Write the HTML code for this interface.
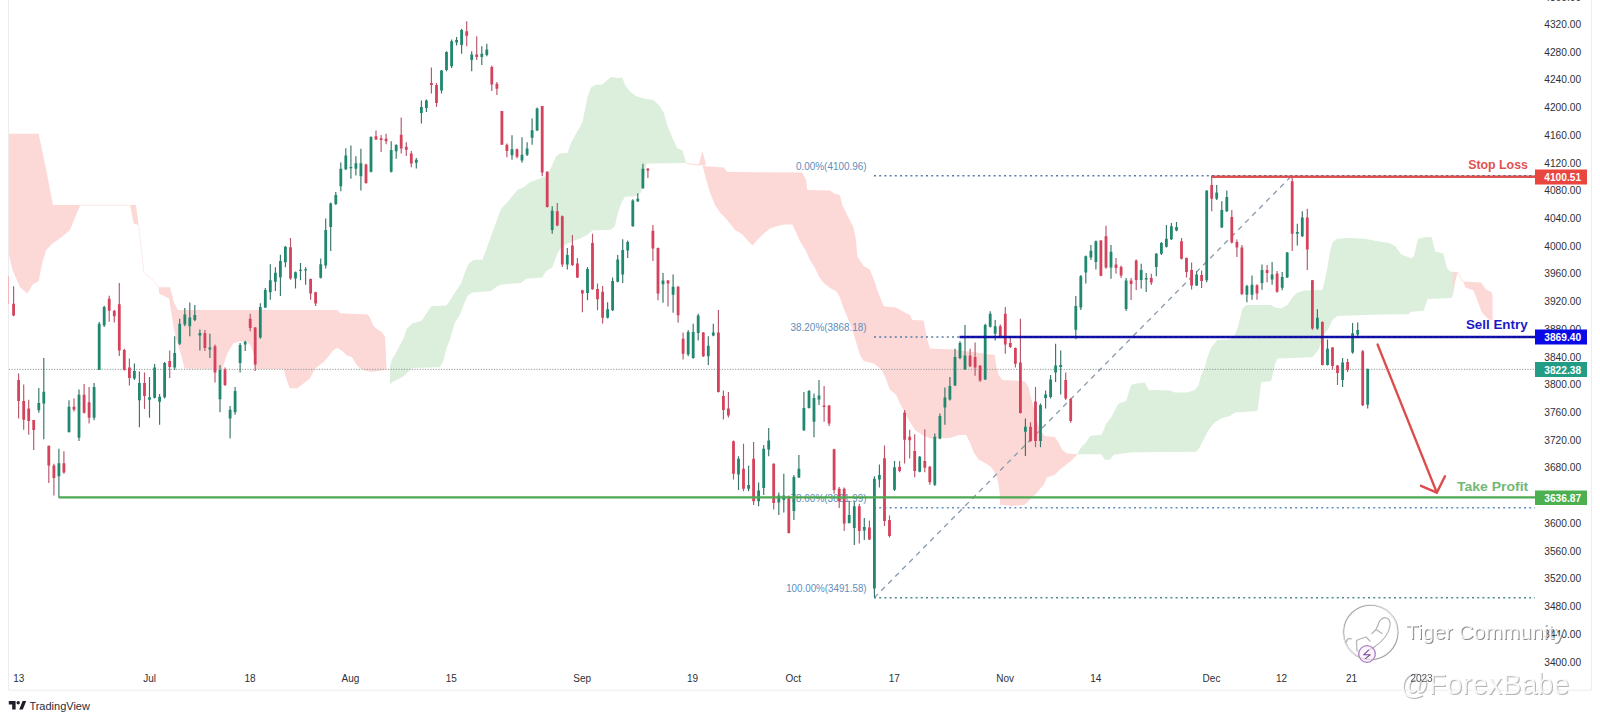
<!DOCTYPE html>
<html lang="en"><head><meta charset="utf-8"><title>Chart</title>
<style>
html,body{margin:0;padding:0;background:#fff;}
body{width:1600px;height:721px;overflow:hidden;}
svg{display:block;}
text{font-family:"Liberation Sans",sans-serif;}
.ax{font-size:10px;fill:#2e3038;}
.fib{font-size:11px;fill:#608dbb;}
.tag{font-size:10.5px;font-weight:bold;fill:#fff;}
.lbl{font-size:13px;font-weight:bold;}
</style></head><body>
<svg width="1600" height="721" viewBox="0 0 1600 721">
<rect width="1600" height="721" fill="#fff"/>
<g fill="none" stroke="#ececee" stroke-width="1">
<path d="M8.5 0V690.2H1591.4V0"/>
</g>
<g stroke="none">
<polygon fill="#fcd9d7" points="9,133.7 38.7,133.7 46.2,170 53,205 80,205 80,205.4 75,217.4 70,230 61.2,237.4 52.4,243.6 46.2,250 42.4,262.3 38.7,281 32.5,284.8 27.5,293.5 20,287.3 12.5,270 9,255"/>
<polygon fill="#fcd9d7" points="130,205 136,205 138.6,225 138.6,225 133.6,223.6 130,205"/>
<polygon fill="#fcd9d7" points="158.4,287.2 170.1,287.2 171,291 174,302.7 177.9,310.1 337.5,310.1 340,313.2 367.7,314.6 369.8,317.3 373.3,325.7 376.8,329.1 381.6,331.9 385.1,336.8 386.5,368.7 386.5,369 382,370.5 372,371.8 366,371 360,368.5 356,364 351.8,356.9 346.9,355.5 342.3,351 337.3,348 333.6,350 324.8,361 314.9,368.7 309.9,378.6 297.3,388.2 289.5,388.2 285.6,376.5 283.7,369.1 256.5,369.1 254.6,357 250.7,345.4 246.8,341.6 239,341.6 233.2,343.5 227.4,353.2 223.5,364.9 222.5,369.1 184.7,368.7 181.7,357 178.8,347.4 175.9,337.7 173,324 171,310.5 169.1,298.8 164.3,296 159.4,294 158.4,287.2"/>
<polygon fill="#dceedc" points="389.9,384.6 389.9,366.6 392,359.6 396.9,351.3 401,343 404.5,336 406.6,329.1 412.1,323.6 421.8,320.8 426,313.9 431.5,306.2 446.2,305.5 448.7,302.4 454.9,292.4 461.1,283.6 464.9,272.4 468.6,263.7 473.6,259.9 482.4,259.4 486.1,249.9 492.4,232.5 497.4,218.7 501.1,208.7 506.2,203.6 512.5,196.1 517.5,189.8 523.7,187.3 530,182.3 540,178.6 546.2,176.1 551.2,167.4 556.2,156.1 560,153.6 567.4,153.1 571.2,142.4 577.4,131.2 582.4,122.4 584.9,109.9 587.4,97.5 591.1,87.5 594.9,85 602.4,84.5 607.4,80 611.1,77 617.4,78 622.4,77.5 624.9,85 629.8,91.2 636.1,96.2 644.8,98.7 653.6,99.9 659.8,106.2 663.6,112.4 667.3,124.9 672.3,137.4 677.3,148.6 682.3,149.9 686,162.4 686,163 647.3,163.6 646,165 643.6,179.9 641.1,192.3 637.3,196.1 624.9,196.8 621.1,203.6 617.4,214.8 614.9,226 611.1,229.8 592.4,230.5 587.4,234.8 579.8,238.7 572.3,241.2 564.8,244.9 561,247.4 557.3,253.7 552.3,267.4 546,271.2 542.3,277.4 526.1,278.7 521.1,283.1 502.3,284.4 497.4,286.1 491.1,291.1 472.4,292.4 467.4,296.1 463.6,304.9 459.9,314.9 454.9,322.3 449.9,339.8 446.8,347.2 443.3,361 439.9,367.3 412.1,368 409.3,370.7 405.2,374.9 401,377.7 392.7,381.8 389.9,384.6"/>
<polygon fill="#fcd9d7" points="686.2,163 698.7,164.5 702.5,151.2 706.2,165 706.2,165 702.5,165 698.7,165.5 686.2,163.8"/>
<polygon fill="#fcd9d7" points="702.5,165 706.2,166.2 723.7,167.5 727.4,172 802.3,172.4 806.1,180 807.3,190 829.8,190.4 834.8,193.7 839.8,195 842.3,205 848.5,217.4 853.5,227.4 856,239.9 857.4,256.8 863.6,266 869.9,269.5 874.9,282.4 878.7,293.7 883.7,306.2 896.1,307.4 904.9,312.4 909.9,314.9 912.4,319.9 923.6,320.4 924.9,327.4 927.4,339.9 929.9,348.6 953.6,349.4 994.9,355 996.1,365 998.6,375 1002.4,380 1024.8,381.2 1028.6,387.4 1032.3,402.4 1036.1,417.4 1039.8,429.9 1044.8,436.1 1054.8,436.9 1058.6,442.4 1062.3,449.9 1067.3,453.6 1077.5,454.3 1077.5,454.3 1072.3,459.8 1066,464.8 1059.8,469.8 1054.8,474.8 1047.3,477.3 1043.6,484.8 1037.3,492.3 1029.8,499.8 1024.8,504.8 1012.4,506 999.9,504.8 999.9,494.8 998.6,484.8 996.1,474.8 991.1,467.3 986.1,463.6 978.7,459.8 973.7,452.3 969.9,442.4 966.2,434.9 958.7,434.9 949.9,437.9 935,438.6 930,438.6 922.5,434.9 915,429.9 908.7,419.9 903.7,410.5 899.9,403.5 896.1,394.8 889.9,389.8 886.2,379.8 882.4,371.1 878.7,367.3 873.7,363.6 863.7,361.1 859.9,354.9 856.2,342.4 852.4,329.9 847.5,317.4 843.7,308.7 840,297.4 836.2,291.2 831.2,288.7 823.7,283 818.7,276 815,268 809.8,259.8 806.1,251.1 799.8,241.1 796.1,232.4 792.3,224.4 784.9,224.4 777.4,226.1 769.9,228.6 764.9,232.4 757.4,239.9 752.4,245.6 747.4,239.9 741.2,233.6 735,229.9 731.2,224.9 725,217.4 720,212.4 715,205 710,192.4 706.2,180 702.5,165"/>
<polygon fill="#dceedc" points="1077.5,453.6 1081.2,447.3 1086.2,442.3 1090,436.1 1101.2,434.8 1103.7,429.9 1106.2,423.6 1111.2,417.4 1114.9,409.9 1118.7,403.6 1126.2,401.1 1128.7,392.4 1131.2,384.9 1134.9,383.7 1144.9,382.4 1148.6,389.9 1169.9,390.4 1174.9,392.4 1187.3,392.4 1194.8,389.9 1198.6,384.9 1201.1,374.9 1204.8,367.4 1207.3,357.4 1211.1,347.5 1217.3,340 1229.8,339.5 1234.8,335 1237.5,328 1240,318.6 1242.5,308.6 1246.2,304.9 1271.2,304.9 1274.9,307.4 1281.2,308.6 1287.4,304.9 1292.4,297.4 1297.4,292.4 1304.9,290.4 1322.4,289.9 1324.9,279.9 1327.4,267.4 1329.9,252.5 1332.4,242.5 1337.4,238.7 1349.9,238 1364.8,238.7 1377.3,241.2 1389.7,243.1 1395.5,246.6 1401.4,254.4 1411.1,258.3 1414,256.3 1417.9,238.8 1426.6,236.9 1431.5,236.9 1435.3,251.5 1443.1,253.4 1447,268 1449.9,271.5 1456.7,272.2 1456.7,272.8 1454.8,281.6 1452.8,293.2 1451.8,298.1 1427.6,299 1423.7,310.7 1411.1,311.7 1408.2,314.2 1380,314.6 1337.4,316.1 1332.4,319.9 1328.6,328.5 1323.5,334.5 1321.1,342.3 1318.6,349.8 1312.4,357.3 1277.4,358.6 1274.9,364.8 1271.2,381 1261.2,382.3 1259,400 1257.3,411.1 1234.8,412.4 1229.8,416.1 1221,418.6 1213.6,423.6 1208.6,429.9 1203.6,439.8 1199.8,447.3 1196.1,451.8 1132.4,452.3 1113.7,454.8 1109.9,459.8 1104.9,459.8 1101.2,454.3 1077.5,454.3"/>
<polygon fill="#fcd9d7" points="1452.8,271.8 1457.7,272.2 1457.7,272.2 1454.8,283.5 1452.8,297"/>
<polygon fill="#fcd9d7" points="1457.7,272.2 1461.6,279.6 1463.5,281.6 1481,282.5 1485.8,289.3 1491.7,292.2 1492.6,297 1492.6,320.4 1492.6,320.4 1488.7,319.4 1481.9,312.6 1479,304.9 1476.1,297 1473.2,290.3 1465.4,287.4 1463.5,282.5 1461.6,280.4 1457.7,273"/>
</g>
<path d="M80 205.2H130M138.6 225L143.9 272.6L153.6 280.4L158.4 287.2M1457.7 272.2L1461.6 279.6L1463.5 281.6" fill="none" stroke="#fdebea" stroke-width="1"/>
<line x1="9" y1="369.35" x2="1535" y2="369.35" stroke="#8a9795" stroke-width="1" stroke-dasharray="1.15 1.5"/>
<g fill="none" stroke-width="1.5" stroke-dasharray="2 3.2">
<line x1="874" y1="175.8" x2="1535" y2="175.8" stroke="#587ca6"/>
<line x1="874" y1="336.9" x2="1535" y2="336.9" stroke="#587ca6"/>
<line x1="874" y1="507.8" x2="1535" y2="507.8" stroke="#6490c0"/>
<line x1="874" y1="597.7" x2="1535" y2="597.7" stroke="#4d8a96"/>
</g>
<line x1="875" y1="597" x2="1290" y2="177.5" stroke="#8c9cae" stroke-width="1.35" stroke-dasharray="5.2 4.753" stroke-dashoffset="1.16"/>
<text class="fib" x="796" y="170.1" textLength="70.5" lengthAdjust="spacingAndGlyphs">0.00%(4100.96)</text>
<text class="fib" x="790.6" y="331.2" textLength="76" lengthAdjust="spacingAndGlyphs">38.20%(3868.18)</text>
<text class="fib" x="790.6" y="502" textLength="76" lengthAdjust="spacingAndGlyphs">78.60%(3621.99)</text>
<text class="fib" x="786.2" y="592" textLength="80.4" lengthAdjust="spacingAndGlyphs">100.00%(3491.58)</text>
<path d="M8.5 276V304" stroke="#f3b6bd" stroke-width="1" fill="none"/>
<path d="M38.8 387.9V412.8M43.8 357.9V439.3M58.9 448.7V497.4M69 400.3V432.3M79 389.4V441M94.1 382.9V420.3M99.2 321.9V369.9M104.2 305.7V326.9M134.4 363.6V379.9M139.4 371.6V427.3M149.5 376.9V417.8M154.6 364.1V398.6M159.6 394.1V424.8M164.6 361.9V398.6M174.7 336.2V369.9M179.7 318.7V344.9M184.8 308V326.2M189.8 302.5V336.2M194.8 305V321.2M199.9 329.4V350.4M209.9 333.7V357.9M220 364.9V412.3M230.1 406.1V438.5M235.1 386.9V414.8M240.1 342.9V372.4M245.2 340.7V351.1M260.3 303.2V338.7M265.3 288V308M270.3 264.3V299.8M275.4 267.3V291M280.4 254.8V296M285.4 246.1V267.3M295.5 271.6V288.5M300.5 263.1V280.3M305.6 267.3V284.8M320.7 258.6V278.6M325.7 218.6V268.6M330.7 202.4V251.1M335.8 191.9V204.9M340.8 162.4V191.2M345.8 148.2V169.9M350.9 145.5V178.7M355.9 156.2V175.4M360.9 148.7V190.4M371 136.2V172.4M391.2 141.2V172.4M396.2 144.2V158.7M416.3 158.1V168.6M421.4 100.4V123.6M426.4 99.4V111.9M441.5 69.9V93.6M446.5 51.2V71.2M451.6 39.5V67.9M456.6 37V45.5M461.6 28.7V53.7M471.7 51.2V71.2M481.8 46.2V64.9M486.8 43.7V56.2M512 135.3V159.8M522 137.3V162.8M527.1 142.3V156.1M532.1 118.6V144.8M537.1 107.4V131.1M552.2 206.2V233.7M567.3 247.9V269.4M587.5 266.9V300.3M607.6 302.3V318.6M612.6 277.4V311.1M617.7 254.9V282.3M622.7 239.2V283.1M627.7 240.6V258.1M632.8 199.2V226.7M637.8 193.2V201.9M642.9 163.7V188.7M663 272.9V302.8M673.1 274.4V312.8M688.2 330V356.2M693.2 323.7V358.7M698.2 313.7V340.4M708.3 336.2V364.9M713.3 323.7V336.2M738.5 456.2V489.9M748.6 465.7V491.2M758.6 482.4V506.2M763.7 445V494.9M768.7 428V456.2M778.8 492.4V514.9M783.8 473.7V512.4M793.9 474.9V519.9M798.9 455V477.9M803.9 391.9V431.1M809 389.9V408.6M814 393.6V437.3M819 379.9V404.9M849.2 500.7V523.6M854.3 501.2V544.9M864.3 517.9V539.9M874.4 476.2V597.3M879.4 464.5V487.4M894.5 461V491M919.7 456.1V472.3M934.8 433.6V486M939.9 413.6V439.3M944.9 387.4V424.8M949.9 376.9V400.4M955 348.7V386.1M960 341.2V359.2M965 325V369.9M985.2 323.7V379.9M990.2 311.2V327.5M995.2 320V340.4M1025.4 418.6V456.1M1040.5 403.6V447.3M1045.6 390.4V408.6M1050.6 374.9V398.6M1055.6 343.7V381.9M1060.7 350.4V394.4M1075.8 296.1V339.3M1080.8 274.9V309.9M1085.8 255.4V283.6M1090.9 244.9V259.9M1095.9 240.4V269.4M1111 244.9V278.7M1126.1 277.9V311.1M1141.2 263.7V288.6M1146.2 272.9V291.9M1156.3 252.9V276.2M1161.4 241.9V254.9M1166.4 225V247.4M1171.4 223V240M1176.5 222V231.2M1196.6 271.2V286.1M1206.7 190.5V282.3M1216.7 185V200M1221.8 201.2V227.9M1226.8 190.5V211.9M1246.9 284.8V302.3M1252 275.4V299.8M1262 264.4V289.8M1272.1 261.9V284.8M1282.2 271.9V290.3M1287.2 251.9V277.9M1297.3 223.7V245.4M1302.3 211.2V236.9M1317.4 309.3V329.8M1327.5 339.4V365.4M1342.6 357.9V386.9M1352.6 322.9V353.7M1357.7 322.4V336.2M1367.7 368.6V408.6" stroke="#3a7468" stroke-width="1.15" fill="none"/>
<path d="M13.6 286.2V316.2M18.6 373.6V418.6M23.7 384.4V429.8M28.7 399.8V434.8M33.7 420V449.9M48.8 445.7V482.9M53.9 463.7V495.4M63.9 451.2V473.7M74 398.6V411.6M84.1 384.1V413.6M89.1 386.9V423.6M109.2 295.7V321.7M114.3 310V322.4M119.3 283V356.1M124.3 348.7V370.4M129.4 358.6V385.4M144.5 372.4V409.1M169.7 350.4V377.9M204.9 329.9V351.1M215 344.4V382.4M225 367.4V386.1M250.2 313.7V331.2M255.2 326.9V371.1M290.5 237.9V279.8M310.6 278.6V299.8M315.6 291.8V306M366 163.7V183.7M376 130.5V140M381.1 135V152M386.1 133.7V144.2M401.2 117.4V153.6M406.3 142.3V156.1M411.3 151.1V167.3M431.4 67.4V93.6M436.5 82.9V106.9M466.7 21.2V46.2M476.7 36.2V59.9M491.8 65.4V91.1M496.9 81.9V94.9M501.9 111.1V144.8M506.9 143.6V157.3M517 148.6V158.6M542.2 106.1V176.2M547.2 171.2V207.4M557.3 202.9V226.2M562.3 215.4V266.9M572.4 234.9V266.1M577.4 258.1V277.9M582.4 289.8V312.3M592.5 233.7V289.8M597.5 283.6V310.3M602.6 286.1V323.5M647.9 168V178M652.9 224.9V261.1M658 247.4V300.3M668 279.9V306.6M678.1 286.1V322.8M683.1 332.5V359.4M703.3 332V356.9M718.4 310V392.4M723.4 390.4V419.4M728.4 391.9V417.4M733.5 440.5V479.4M743.5 443.7V491.2M753.6 442V504.9M773.7 463.2V509.4M788.8 495.4V533.6M824.1 386.1V421.8M829.1 404.9V426.1M834.1 448.7V493.7M839.2 486.9V507.9M844.2 487.4V531.1M859.3 503.7V543.6M869.4 520.4V539.9M884.5 445.5V526.1M889.5 515.6V537.4M899.6 461V472.3M904.6 409.9V463.5M909.7 429.8V458.6M914.7 434.3V477.3M924.8 429.3V472.3M929.8 466V484.8M970.1 348.7V366.9M975.1 342.4V375.7M980.1 364.9V381.9M1000.3 324.5V337.5M1005.3 307V353.7M1010.3 337.5V347.9M1015.4 347.4V367.4M1020.4 318.7V413.6M1030.5 422.3V441.8M1035.5 386.9V447.3M1065.7 372.4V399.9M1070.7 398.1V422.8M1100.9 240V276.2M1106 225.7V268.7M1116 257.9V273.7M1121.1 265.4V277.9M1131.1 277.9V299.9M1136.2 259.4V289.9M1151.3 273.7V284.9M1181.5 238V259.4M1186.5 257.4V277.4M1191.6 262.4V289.4M1201.6 270.4V287.9M1211.7 176.2V211.2M1231.8 209.9V243.6M1236.9 239.4V256.9M1241.9 244.9V294.8M1257 284.3V299.8M1267.1 264.9V282.3M1277.1 271.1V292.8M1292.2 176.2V251.1M1307.3 208.7V269.9M1312.4 279.9V329.8M1322.4 321.2V365.4M1332.5 346.9V369.4M1337.5 364.9V384.9M1347.6 358.7V371.9M1362.7 349.9V406.1" stroke="#b8566c" stroke-width="1.15" fill="none"/>
<path d="M37.4 403.1h2.8V410.3h-2.8zM42.4 391.8h2.8V403.6h-2.8zM57.5 463.2h2.8V476.2h-2.8zM67.6 406.8h2.8V432.3h-2.8zM77.6 394.8h2.8V437.8h-2.8zM92.7 386.9h2.8V417.8h-2.8zM97.8 323.7h2.8V369.9h-2.8zM102.8 307h2.8V325.4h-2.8zM133 371.1h2.8V378.6h-2.8zM138 382.9h2.8V400.3h-2.8zM148.1 397.3h2.8V399.8h-2.8zM153.2 367.4h2.8V397.8h-2.8zM158.2 396.8h2.8V401.8h-2.8zM163.2 362.9h2.8V397.3h-2.8zM173.3 353.1h2.8V367.4h-2.8zM178.3 323.7h2.8V343.7h-2.8zM183.4 314.4h2.8V324.4h-2.8zM188.4 317.4h2.8V326.2h-2.8zM193.4 314.9h2.8V319.9h-2.8zM198.5 332.9h2.8V335.4h-2.8zM208.5 347.4h2.8V349.4h-2.8zM218.6 369.9h2.8V399.3h-2.8zM228.7 409.8h2.8V418.6h-2.8zM233.7 391.1h2.8V412.3h-2.8zM238.7 344.9h2.8V362.9h-2.8zM243.8 341.7h2.8V344.4h-2.8zM258.9 307h2.8V337.4h-2.8zM263.9 290h2.8V307.5h-2.8zM268.9 280.3h2.8V292.3h-2.8zM274 272.8h2.8V281.8h-2.8zM279 261.1h2.8V277.3h-2.8zM284 246.8h2.8V262.3h-2.8zM294.1 272.3h2.8V278.6h-2.8zM299.1 269.8h2.8V271.1h-2.8zM304.2 269.3h2.8V270.6h-2.8zM319.3 264.3h2.8V277.8h-2.8zM324.3 229.9h2.8V265.6h-2.8zM329.3 203.6h2.8V226.9h-2.8zM334.4 194.9h2.8V204.1h-2.8zM339.4 168.7h2.8V186.2h-2.8zM344.4 155.5h2.8V169.2h-2.8zM349.5 166.9h2.8V168.2h-2.8zM354.5 163.2h2.8V168.7h-2.8zM359.5 163.2h2.8V176.2h-2.8zM369.6 137h2.8V171.7h-2.8zM389.8 150h2.8V171.7h-2.8zM394.8 145h2.8V151.2h-2.8zM414.9 159.8h2.8V162.8h-2.8zM420 106.9h2.8V112.9h-2.8zM425 100.4h2.8V107.9h-2.8zM440.1 70.4h2.8V90.4h-2.8zM445.1 51.9h2.8V69.9h-2.8zM450.2 41.2h2.8V66.2h-2.8zM455.2 40h2.8V42.5h-2.8zM460.2 30h2.8V45h-2.8zM470.3 54.4h2.8V59.9h-2.8zM480.4 53.7h2.8V56.9h-2.8zM485.4 49.5h2.8V54.9h-2.8zM510.6 149.3h2.8V155.3h-2.8zM520.6 154.8h2.8V160.6h-2.8zM525.7 148.6h2.8V154.8h-2.8zM530.7 130.3h2.8V137.8h-2.8zM535.7 108.6h2.8V130.6h-2.8zM550.8 210.7h2.8V229.9h-2.8zM565.9 254.9h2.8V264.4h-2.8zM586.1 269.1h2.8V293.1h-2.8zM606.2 309.3h2.8V317.8h-2.8zM611.2 281.1h2.8V310.3h-2.8zM616.3 259.4h2.8V281.8h-2.8zM621.3 249.9h2.8V274.4h-2.8zM626.3 241.9h2.8V250.4h-2.8zM631.4 200.4h2.8V226.2h-2.8zM636.4 198.7h2.8V201.2h-2.8zM641.5 168.7h2.8V188.2h-2.8zM661.6 280.6h2.8V284.3h-2.8zM671.7 286.8h2.8V294.8h-2.8zM686.8 332h2.8V354.4h-2.8zM691.8 332h2.8V357.9h-2.8zM696.8 315.5h2.8V333h-2.8zM706.9 345.7h2.8V356.2h-2.8zM711.9 332.5h2.8V335.5h-2.8zM737.1 458.7h2.8V474.4h-2.8zM747.2 484.9h2.8V488.7h-2.8zM757.2 490.4h2.8V501.2h-2.8zM762.3 448.7h2.8V487.9h-2.8zM767.3 440.5h2.8V449.5h-2.8zM777.4 495.4h2.8V502.4h-2.8zM782.4 495.4h2.8V499.9h-2.8zM792.5 476.9h2.8V511.1h-2.8zM797.5 468.7h2.8V477.4h-2.8zM802.5 408.1h2.8V430.3h-2.8zM807.6 391.1h2.8V407.9h-2.8zM812.6 397.9h2.8V421.8h-2.8zM817.6 395.4h2.8V399.4h-2.8zM847.8 514.9h2.8V522.9h-2.8zM852.9 506.2h2.8V527.9h-2.8zM862.9 526.9h2.8V530.4h-2.8zM873 478.7h2.8V588.6h-2.8zM878 474.9h2.8V479.4h-2.8zM893.1 467.3h2.8V489.8h-2.8zM918.3 456.8h2.8V471.8h-2.8zM933.4 436.8h2.8V484.8h-2.8zM938.5 416.1h2.8V438.6h-2.8zM943.5 397.4h2.8V407.4h-2.8zM948.5 386.1h2.8V399.4h-2.8zM953.6 356.9h2.8V385.4h-2.8zM958.6 342.9h2.8V357.9h-2.8zM963.6 355.4h2.8V369.2h-2.8zM983.8 325h2.8V379.4h-2.8zM988.8 313.7h2.8V326.7h-2.8zM993.8 326.2h2.8V333.7h-2.8zM1024 426.8h2.8V431.8h-2.8zM1039.1 404.9h2.8V441.1h-2.8zM1044.2 394.4h2.8V397.9h-2.8zM1049.2 379.4h2.8V396.9h-2.8zM1054.2 365.4h2.8V372.4h-2.8zM1059.3 364.9h2.8V366.9h-2.8zM1074.4 306.1h2.8V329.8h-2.8zM1079.4 276.2h2.8V307.4h-2.8zM1084.4 256.2h2.8V272.4h-2.8zM1089.5 250.7h2.8V257.4h-2.8zM1094.5 241.2h2.8V261.9h-2.8zM1109.6 251.7h2.8V267.4h-2.8zM1124.7 280.4h2.8V309.1h-2.8zM1139.8 269.9h2.8V279.9h-2.8zM1144.8 277.9h2.8V279.4h-2.8zM1154.9 253.7h2.8V266.9h-2.8zM1160 242.9h2.8V253.7h-2.8zM1165 238.7h2.8V246.7h-2.8zM1170 226.2h2.8V239.2h-2.8zM1175.1 227h2.8V230.5h-2.8zM1195.2 274.4h2.8V285.4h-2.8zM1205.3 190.5h2.8V280.3h-2.8zM1215.3 192.5h2.8V198.7h-2.8zM1220.4 209.9h2.8V227.4h-2.8zM1225.4 197h2.8V211.2h-2.8zM1245.5 286.1h2.8V294.8h-2.8zM1250.6 284.8h2.8V294.8h-2.8zM1260.6 269.9h2.8V283.1h-2.8zM1270.7 274.4h2.8V279.4h-2.8zM1280.8 276.9h2.8V287.8h-2.8zM1285.8 252.4h2.8V277.4h-2.8zM1295.9 231.9h2.8V233.7h-2.8zM1300.9 217.4h2.8V236.2h-2.8zM1316 317.8h2.8V328.5h-2.8zM1326.1 348.7h2.8V364.9h-2.8zM1341.2 362.4h2.8V379.9h-2.8zM1351.2 333.2h2.8V352.4h-2.8zM1356.3 329.9h2.8V334.4h-2.8zM1366.3 369.1h2.8V404.8h-2.8z" fill="#218870"/>
<path d="M12.2 303.7h2.8V315.4h-2.8zM17.2 379.9h2.8V401.1h-2.8zM22.3 401.1h2.8V419.8h-2.8zM27.3 408.6h2.8V421.1h-2.8zM32.3 420h2.8V430h-2.8zM47.4 445.7h2.8V465.4h-2.8zM52.5 465.4h2.8V477.9h-2.8zM62.5 463.2h2.8V472.4h-2.8zM72.6 406.8h2.8V409.8h-2.8zM82.7 394.8h2.8V412.8h-2.8zM87.7 402.3h2.8V417.8h-2.8zM107.8 298.7h2.8V310.7h-2.8zM112.9 310.7h2.8V316.2h-2.8zM117.9 304.2h2.8V350.4h-2.8zM122.9 349.9h2.8V369.9h-2.8zM128 367.4h2.8V378.1h-2.8zM143.1 382.9h2.8V396.1h-2.8zM168.3 361.1h2.8V366.9h-2.8zM203.5 332.9h2.8V347.9h-2.8zM213.6 346.2h2.8V372.4h-2.8zM223.6 369.4h2.8V384.9h-2.8zM248.8 318.7h2.8V327.9h-2.8zM253.8 327.4h2.8V364.4h-2.8zM289.1 247.3h2.8V278.6h-2.8zM309.2 279.1h2.8V293.5h-2.8zM314.2 292.3h2.8V303.5h-2.8zM364.6 164.4h2.8V182.9h-2.8zM374.6 136.2h2.8V139.5h-2.8zM379.7 138.2h2.8V140h-2.8zM384.7 138.7h2.8V141.2h-2.8zM399.8 134.8h2.8V148.6h-2.8zM404.9 146.8h2.8V149.8h-2.8zM409.9 153.6h2.8V163.6h-2.8zM430 82.9h2.8V84.9h-2.8zM435.1 84.9h2.8V102.9h-2.8zM465.3 31.2h2.8V35.7h-2.8zM475.3 54.4h2.8V56.9h-2.8zM490.4 66.9h2.8V84.4h-2.8zM495.5 83.7h2.8V88.7h-2.8zM500.5 111.1h2.8V144.8h-2.8zM505.5 144.8h2.8V151.1h-2.8zM515.6 149.3h2.8V156.8h-2.8zM540.8 106.1h2.8V172.5h-2.8zM545.8 171.7h2.8V206.9h-2.8zM555.9 211.2h2.8V225.4h-2.8zM560.9 216.2h2.8V264.4h-2.8zM571 245.4h2.8V264.9h-2.8zM576 263.6h2.8V277.4h-2.8zM581 290.3h2.8V293.6h-2.8zM591.1 243.1h2.8V289.3h-2.8zM596.1 289.1h2.8V299.3h-2.8zM601.2 291.8h2.8V317.8h-2.8zM646.5 168.7h2.8V170.5h-2.8zM651.5 230.7h2.8V248.6h-2.8zM656.6 247.9h2.8V293.6h-2.8zM666.6 280.6h2.8V283.6h-2.8zM676.7 286.8h2.8V315.3h-2.8zM681.7 338.7h2.8V353.7h-2.8zM701.9 332.5h2.8V356.2h-2.8zM717 332.5h2.8V391.9h-2.8zM722 396.1h2.8V409.9h-2.8zM727 408.6h2.8V415.4h-2.8zM732.1 441.2h2.8V473.7h-2.8zM742.1 468.7h2.8V488.7h-2.8zM752.2 458.7h2.8V501.2h-2.8zM772.3 463.7h2.8V502.9h-2.8zM787.4 496.2h2.8V532.9h-2.8zM822.7 405.4h2.8V406.9h-2.8zM827.7 405.6h2.8V423.6h-2.8zM832.7 449.2h2.8V489.9h-2.8zM837.8 488.7h2.8V501.2h-2.8zM842.8 488.7h2.8V523.6h-2.8zM857.9 506.2h2.8V531.1h-2.8zM868 527.4h2.8V539.4h-2.8zM883.1 458.2h2.8V521.1h-2.8zM888.1 519.9h2.8V536.1h-2.8zM898.2 466.8h2.8V471h-2.8zM903.2 412.4h2.8V439.8h-2.8zM908.3 436.8h2.8V440.3h-2.8zM913.3 451.1h2.8V471h-2.8zM923.4 461h2.8V467.8h-2.8zM928.4 466.8h2.8V482.3h-2.8zM968.7 355.4h2.8V366.2h-2.8zM973.7 356.9h2.8V367.4h-2.8zM978.7 365.7h2.8V380.4h-2.8zM998.9 326.2h2.8V337h-2.8zM1003.9 313.7h2.8V344.4h-2.8zM1008.9 342.9h2.8V346.9h-2.8zM1014 347.9h2.8V363.7h-2.8zM1019 362.4h2.8V413.1h-2.8zM1029.1 426.8h2.8V441.1h-2.8zM1034.1 401.6h2.8V441.1h-2.8zM1064.3 379.9h2.8V398.6h-2.8zM1069.3 399.1h2.8V421.1h-2.8zM1099.5 240.4h2.8V275.7h-2.8zM1104.6 236.2h2.8V267.4h-2.8zM1114.6 264.4h2.8V267.9h-2.8zM1119.7 266.9h2.8V275.4h-2.8zM1129.7 280.4h2.8V284.1h-2.8zM1134.8 260.4h2.8V279.9h-2.8zM1149.9 277.9h2.8V282.4h-2.8zM1180.1 241.2h2.8V258.7h-2.8zM1185.1 257.9h2.8V271.9h-2.8zM1190.2 269.9h2.8V285.4h-2.8zM1200.2 274.9h2.8V281.1h-2.8zM1210.3 185h2.8V198.7h-2.8zM1230.4 216.9h2.8V242.4h-2.8zM1235.5 241.9h2.8V247.4h-2.8zM1240.5 247.4h2.8V294.3h-2.8zM1255.6 285.3h2.8V293.6h-2.8zM1265.7 269.9h2.8V272.9h-2.8zM1275.7 273.6h2.8V291.8h-2.8zM1290.8 181.2h2.8V233.7h-2.8zM1305.9 217.4h2.8V249.4h-2.8zM1311 280.3h2.8V328.5h-2.8zM1321 321.9h2.8V364.9h-2.8zM1331.1 347.4h2.8V366.1h-2.8zM1336.1 365.4h2.8V372.9h-2.8zM1346.2 361.9h2.8V369.9h-2.8zM1361.3 351.2h2.8V405.3h-2.8z" fill="#d4425c"/>

<line x1="58.7" y1="497.4" x2="1535" y2="497.4" stroke="#4ea852" stroke-width="2.4"/>
<line x1="959.5" y1="337" x2="1535" y2="337" stroke="#1212b4" stroke-width="2.6"/>
<line x1="1211" y1="176.8" x2="1535" y2="176.8" stroke="#e0524f" stroke-width="2.4"/>
<line x1="959.5" y1="336.9" x2="1535" y2="336.9" stroke="#06065a" stroke-opacity="0.55" stroke-width="1.5" stroke-dasharray="2 3.2" stroke-dashoffset="-2.3"/>
<line x1="1211" y1="175.7" x2="1535" y2="175.7" stroke="#5f5a78" stroke-opacity="0.6" stroke-width="1.3" stroke-dasharray="2 3.2" stroke-dashoffset="-1.4"/>
<g fill="none" stroke="#dc4c4b" stroke-width="2.4" stroke-linecap="round" stroke-linejoin="round">
<path d="M1377.6 344.6L1436.8 492.6"/>
<path d="M1421 485.8L1436.8 492.6L1445 476.2"/>
</g>
<text class="lbl" x="1468.2" y="169.4" fill="#e0524f" textLength="59.7" lengthAdjust="spacingAndGlyphs">Stop Loss</text>
<text class="lbl" x="1465.9" y="329.4" fill="#1a1ac8" textLength="61.7" lengthAdjust="spacingAndGlyphs">Sell Entry</text>
<text class="lbl" x="1456.9" y="490.8" fill="#74b876" textLength="71.4" lengthAdjust="spacingAndGlyphs">Take Profit</text>

<g class="ax">
<text x="1544.3" y="1" textLength="36.8" lengthAdjust="spacingAndGlyphs">4360.00</text>
<text x="1544.3" y="27.9" textLength="36.8" lengthAdjust="spacingAndGlyphs">4320.00</text>
<text x="1544.3" y="55.6" textLength="36.8" lengthAdjust="spacingAndGlyphs">4280.00</text>
<text x="1544.3" y="83.3" textLength="36.8" lengthAdjust="spacingAndGlyphs">4240.00</text>
<text x="1544.3" y="111.1" textLength="36.8" lengthAdjust="spacingAndGlyphs">4200.00</text>
<text x="1544.3" y="138.8" textLength="36.8" lengthAdjust="spacingAndGlyphs">4160.00</text>
<text x="1544.3" y="166.5" textLength="36.8" lengthAdjust="spacingAndGlyphs">4120.00</text>
<text x="1544.3" y="194.2" textLength="36.8" lengthAdjust="spacingAndGlyphs">4080.00</text>
<text x="1544.3" y="222" textLength="36.8" lengthAdjust="spacingAndGlyphs">4040.00</text>
<text x="1544.3" y="249.7" textLength="36.8" lengthAdjust="spacingAndGlyphs">4000.00</text>
<text x="1544.3" y="277.4" textLength="36.8" lengthAdjust="spacingAndGlyphs">3960.00</text>
<text x="1544.3" y="305.1" textLength="36.8" lengthAdjust="spacingAndGlyphs">3920.00</text>
<text x="1544.3" y="332.8" textLength="36.8" lengthAdjust="spacingAndGlyphs">3880.00</text>
<text x="1544.3" y="360.6" textLength="36.8" lengthAdjust="spacingAndGlyphs">3840.00</text>
<text x="1544.3" y="388.3" textLength="36.8" lengthAdjust="spacingAndGlyphs">3800.00</text>
<text x="1544.3" y="416" textLength="36.8" lengthAdjust="spacingAndGlyphs">3760.00</text>
<text x="1544.3" y="443.7" textLength="36.8" lengthAdjust="spacingAndGlyphs">3720.00</text>
<text x="1544.3" y="471.4" textLength="36.8" lengthAdjust="spacingAndGlyphs">3680.00</text>
<text x="1544.3" y="499.2" textLength="36.8" lengthAdjust="spacingAndGlyphs">3640.00</text>
<text x="1544.3" y="526.9" textLength="36.8" lengthAdjust="spacingAndGlyphs">3600.00</text>
<text x="1544.3" y="554.6" textLength="36.8" lengthAdjust="spacingAndGlyphs">3560.00</text>
<text x="1544.3" y="582.3" textLength="36.8" lengthAdjust="spacingAndGlyphs">3520.00</text>
<text x="1544.3" y="610.1" textLength="36.8" lengthAdjust="spacingAndGlyphs">3480.00</text>
<text x="1544.3" y="637.8" textLength="36.8" lengthAdjust="spacingAndGlyphs">3440.00</text>
<text x="1544.3" y="665.5" textLength="36.8" lengthAdjust="spacingAndGlyphs">3400.00</text>
<text x="18.8" y="681.5" text-anchor="middle">13</text>
<text x="149.6" y="681.5" text-anchor="middle">Jul</text>
<text x="250" y="681.5" text-anchor="middle">18</text>
<text x="350.5" y="681.5" text-anchor="middle">Aug</text>
<text x="451.2" y="681.5" text-anchor="middle">15</text>
<text x="582.2" y="681.5" text-anchor="middle">Sep</text>
<text x="692.5" y="681.5" text-anchor="middle">19</text>
<text x="793.3" y="681.5" text-anchor="middle">Oct</text>
<text x="894.3" y="681.5" text-anchor="middle">17</text>
<text x="1005.1" y="681.5" text-anchor="middle">Nov</text>
<text x="1095.7" y="681.5" text-anchor="middle">14</text>
<text x="1211.5" y="681.5" text-anchor="middle">Dec</text>
<text x="1281.5" y="681.5" text-anchor="middle">12</text>
<text x="1351.5" y="681.5" text-anchor="middle">21</text>
</g>

<rect x="1535" y="169.5" width="52" height="15" fill="#e8463f"/>
<text class="tag" x="1544.3" y="181.2" textLength="36.8" lengthAdjust="spacingAndGlyphs">4100.51</text>
<rect x="1535" y="329.5" width="52" height="15" fill="#0a0ae6"/>
<text class="tag" x="1544.3" y="341.2" textLength="36.8" lengthAdjust="spacingAndGlyphs">3869.40</text>
<rect x="1535" y="362" width="52" height="15" fill="#229c84"/>
<text class="tag" x="1544.3" y="373.7" textLength="36.8" lengthAdjust="spacingAndGlyphs">3822.38</text>
<rect x="1535" y="490.5" width="52" height="14.5" fill="#4caf50"/>
<text class="tag" x="1544.3" y="502" textLength="36.8" lengthAdjust="spacingAndGlyphs">3636.87</text>


<g fill="#1c1f28">
<path d="M8.8 701H15.6V709.6H12.2V704.6H8.8z"/>
<circle cx="18.2" cy="702.8" r="1.7"/>
<path d="M19.2 709.6L22.6 701H26.2L22.8 709.6z"/>
</g>
<text x="29.4" y="709.6" font-size="10.8" fill="#2a2e39" textLength="60.5" lengthAdjust="spacingAndGlyphs">TradingView</text>


<g fill="none" stroke-linecap="round" stroke-linejoin="round">
<circle cx="1370.6" cy="632.2" r="27.2" stroke="#a0a0a0" stroke-width="1.5"/>
<circle cx="1370" cy="631.6" r="27.2" stroke="#ffffff" stroke-width="1.1" opacity="0.75"/>
<g stroke="#b3b3b3" stroke-width="1.2">
<path d="M1378 625C1379 621 1381 618.5 1384.5 617.6C1389 617.5 1390.6 621 1390 626C1388.5 634 1383 641 1375 646.5C1373 648 1371 649 1369 650"/>
<path d="M1378 625L1376 629.5L1372 633.5M1376 629.5L1382 633.5"/>
<path d="M1346.5 642C1346.8 640 1347.5 638.7 1349 638.4L1351.5 639"/>
<path d="M1357 651L1356.5 640.5L1360 639L1366 637L1370 641"/>
</g>
<circle cx="1367" cy="654" r="8.3" fill="#f6ecf8" fill-opacity="0.6" stroke="#ae80c6" stroke-width="1.3"/>
<path d="M1368.6 650.2L1363.6 654.8H1370.2L1365.4 658.6" stroke="#7a4a98" stroke-width="1.1"/>
</g>
<text x="1405.7" y="638.8" font-size="21" fill="#ffffff" fill-opacity="0.9" style="filter:drop-shadow(1px 1px 0.35px rgb(128,128,128))" textLength="158.5" lengthAdjust="spacingAndGlyphs">Tiger Community</text>
<text x="1399.7" y="694.4" font-size="28.8" fill="#ffffff" fill-opacity="0.9" style="filter:drop-shadow(1.1px 1.1px 0.4px rgb(172,172,172))" textLength="169.5" lengthAdjust="spacingAndGlyphs">@ForexBabe</text>
<text class="ax" x="1421.5" y="681.5" text-anchor="middle" opacity="0.8">2023</text>

</svg>
</body></html>
